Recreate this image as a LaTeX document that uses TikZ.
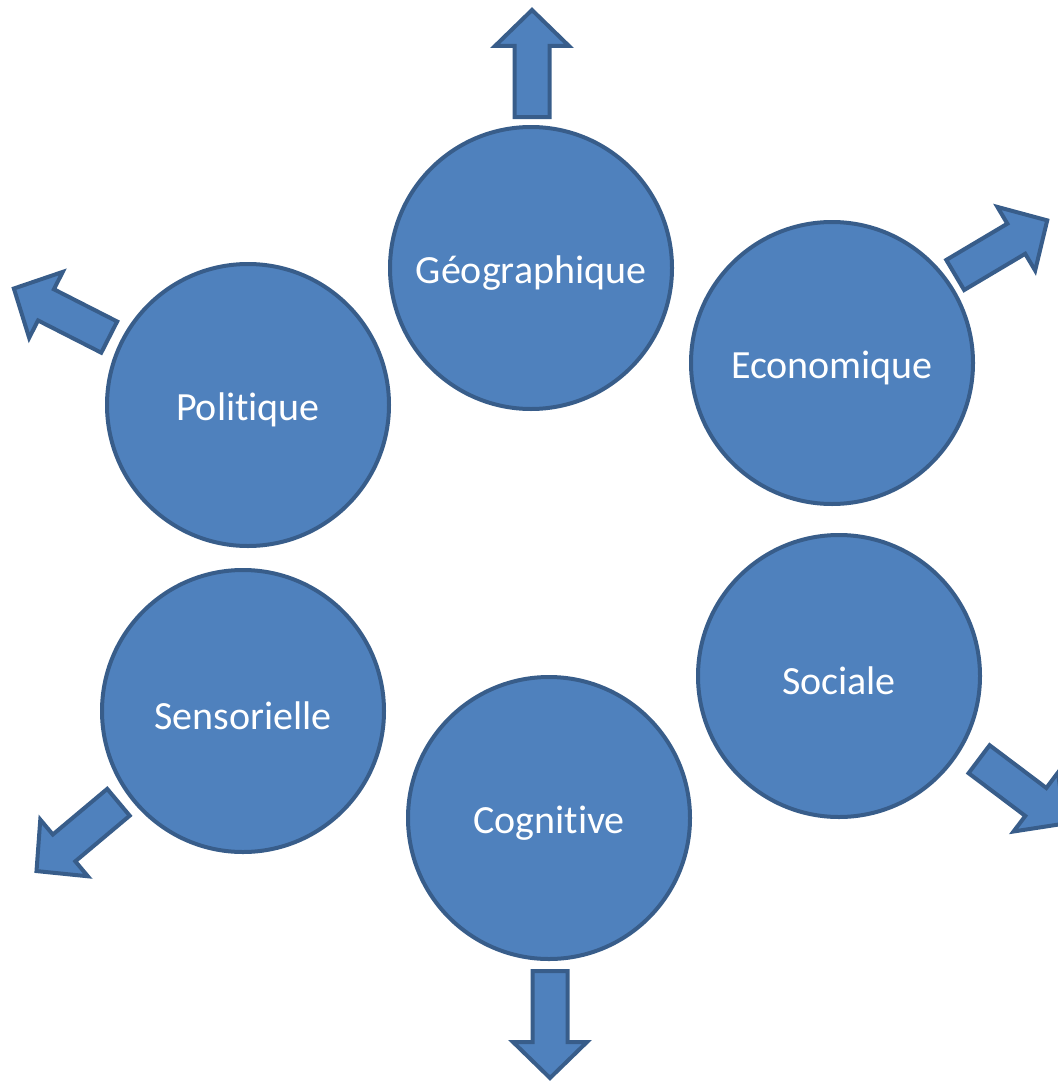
\documentclass[tikz,border=0pt]{standalone}
\usepackage{fontspec}
\setmainfont[Ligatures=NoCommon]{Carlito}
\definecolor{cfill}{RGB}{79,129,189}
\definecolor{cline}{RGB}{56,93,138}
\begin{document}
\begin{tikzpicture}[x=1pt,y=-1pt,
  bubble/.style={circle,fill=cfill,draw=cline,line width=4pt,minimum size=282pt,inner sep=0pt},
  bubtext/.style={text=white,font=\fontsize{40}{48}\selectfont,yshift=-5pt,inner sep=0pt},
  barrowstyle/.style={fill=cfill,draw=cline,line width=4pt,line join=miter},
  pics/barrow/.style={code={\draw[barrowstyle] (2,-17.5) -- (73,-17.5) -- (73,-37) -- (109,0) -- (73,37) -- (73,17.5) -- (2,17.5) -- cycle;}}]
\useasboundingbox (0,0) rectangle (1057,1081);
\node[bubble,label={[bubtext]center:Géographique}] (geo) at (531,268) {};
\node[bubble,label={[bubtext]center:Economique}] (eco) at (832,363) {};
\node[bubble,label={[bubtext]center:Politique}] (pol) at (248,405) {};
\node[bubble,label={[bubtext]center:Sensorielle}] (sen) at (243,711) {};
\node[bubble,label={[bubtext]center:Sociale}] (soc) at (839,676) {};
\node[bubble,label={[bubtext]center:Cognitive}] (cog) at (549,818) {};
\pic[rotate=90] at (532,119) {barrow};
\pic[rotate=30.7] at (953.5,276) {barrow};
\pic[rotate=153] at (111,338) {barrow};
\pic[rotate=220] at (120,801) {barrow};
\pic[rotate=-37] at (977.5,758) {barrow};
\pic[rotate=-90] at (550,969) {barrow};
\end{tikzpicture}
\end{document}
